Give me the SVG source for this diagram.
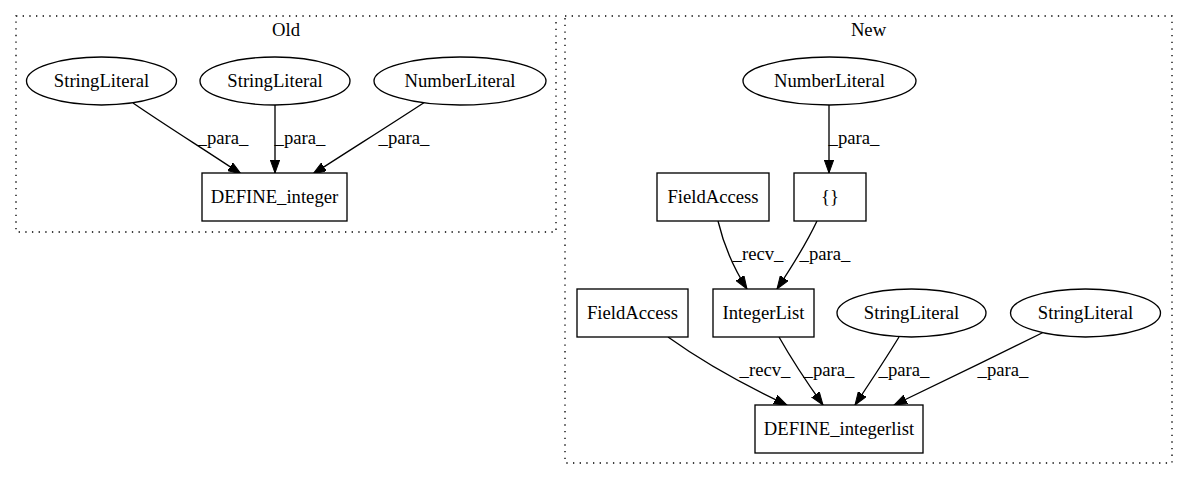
<svg xmlns="http://www.w3.org/2000/svg" width="1187" height="480" viewBox="0 0 1187 480">
<style>
text{font-family:"Liberation Serif","Times New Roman",serif;font-size:18.67px;text-anchor:middle;fill:#000}
.n{fill:#fff;stroke:#000;stroke-width:1.33}
.c{fill:none;stroke:#000;stroke-width:1.33;stroke-dasharray:1.33,5.33}
.e{fill:none;stroke:#000;stroke-width:1.33;marker-end:url(#ah)}
</style>
<defs>
<marker id="ah" markerUnits="userSpaceOnUse" markerWidth="14" markerHeight="10" refX="13" refY="4.67" orient="auto">
<path d="M0,0 L13,4.67 L0,9.33 z" fill="#000" stroke="#000" stroke-width="1"/>
</marker>
</defs>
<rect width="1187" height="480" fill="#fff"/>
<g id="cluster_old">
<rect class="c" x="16" y="16" width="540" height="216"/>
<text x="286" y="36">Old</text>
</g>
<g id="cluster_new">
<rect class="c" x="565" y="16" width="607" height="447"/>
<text x="868.5" y="36">New</text>
</g>
<g id="connectors">
<path class="e" d="M133,103 C165,125 205,150 241,174"/>
<text x="223" y="144">_para_</text>
<path class="e" d="M275,105 L275,173"/>
<text x="300" y="144">_para_</text>
<path class="e" d="M425,102 C390,125 350,150 313,174"/>
<text x="404" y="144">_para_</text>
<path class="e" d="M829,105 L829,173"/>
<text x="854" y="144">_para_</text>
<path class="e" d="M718,221 C723,242 731,264 747,289"/>
<text x="758" y="260">_recv_</text>
<path class="e" d="M817,221 C808,240 795,262 777,289"/>
<text x="825" y="260">_para_</text>
<path class="e" d="M668,337 C700,360 742,384 787,405"/>
<text x="765" y="376">_recv_</text>
<path class="e" d="M779,337 C792,360 808,384 823,405"/>
<text x="829" y="376">_para_</text>
<path class="e" d="M899,337 C885,360 869,384 855,405"/>
<text x="904" y="376">_para_</text>
<path class="e" d="M1044,332 C995,356 942,382 894,405"/>
<text x="1003" y="376">_para_</text>
</g>
<g id="old_sl1"><ellipse class="n" cx="101.5" cy="81" rx="75" ry="24"/><text x="101.5" y="87">StringLiteral</text></g>
<g id="old_sl2"><ellipse class="n" cx="275" cy="81" rx="75" ry="24"/><text x="275" y="87">StringLiteral</text></g>
<g id="old_nl"><ellipse class="n" cx="460" cy="81" rx="86" ry="24"/><text x="460" y="87">NumberLiteral</text></g>
<g id="old_define_integer"><rect class="n" x="202" y="173" width="145" height="48"/><text x="274.5" y="203">DEFINE_integer</text></g>
<g id="new_nl"><ellipse class="n" cx="829.5" cy="81" rx="86.5" ry="24"/><text x="829.5" y="87">NumberLiteral</text></g>
<g id="new_fa1"><rect class="n" x="657" y="173" width="112" height="48"/><text x="713" y="203">FieldAccess</text></g>
<g id="new_braces"><rect class="n" x="794" y="173" width="72" height="48"/><text x="830" y="203">{}</text></g>
<g id="new_fa2"><rect class="n" x="577" y="289" width="111" height="48"/><text x="632.5" y="319">FieldAccess</text></g>
<g id="new_integerlist"><rect class="n" x="713" y="289" width="101" height="48"/><text x="763.5" y="319">IntegerList</text></g>
<g id="new_sl3"><ellipse class="n" cx="911.5" cy="313" rx="74.5" ry="24"/><text x="911.5" y="319">StringLiteral</text></g>
<g id="new_sl4"><ellipse class="n" cx="1085.5" cy="313" rx="75" ry="24"/><text x="1085.5" y="319">StringLiteral</text></g>
<g id="new_define_integerlist"><rect class="n" x="755" y="405" width="168" height="48"/><text x="839" y="435">DEFINE_integerlist</text></g>
</svg>
